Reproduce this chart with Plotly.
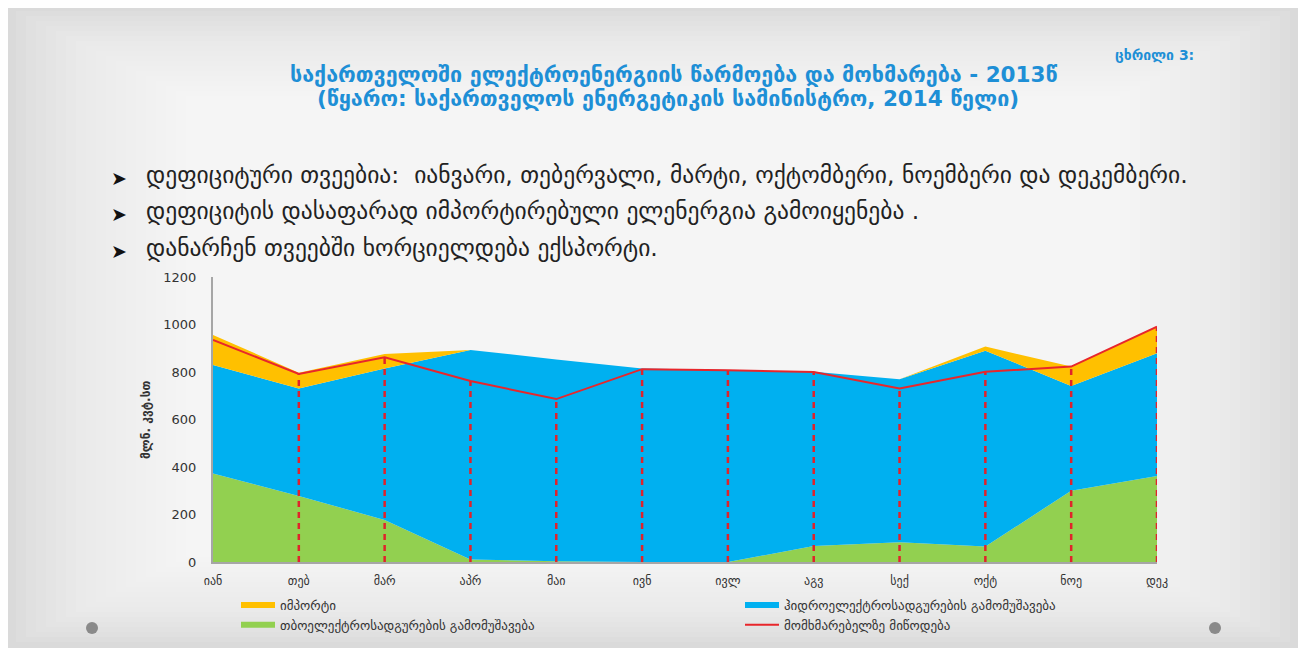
import plotly.graph_objects as go

months = ["იან", "თებ", "მარ", "აპრ", "მაი", "ივნ", "ივლ", "აგვ", "სექ", "ოქტ", "ნოე", "დეკ"]
thermal = [373, 278, 177, 11, 3, 0, 0, 67, 83, 65, 300, 362]
hydro = [456, 453, 638, 882, 850, 815, 808, 734, 686, 825, 441, 517]
imports = [127, 66, 61, 0, 0, 0, 0, 0, 0, 17, 82, 112]
supply = [935, 792, 862, 762, 686, 812, 807, 800, 731, 801, 823, 991]

names = {
    "imp": "იმპორტი",
    "hydro": "ჰიდროელექტროსადგურების გამომუშავება",
    "thermal": "თბოელექტროსადგურების გამომუშავება",
    "supply": "მომხმარებელზე მიწოდება",
}
yticks = [0, 200, 400, 600, 800, 1000, 1200]

OFF = 8  # default page body margin
PW, PH = 1306, 653
W, H = PW - OFF, PH - OFF
L, R, T, B = 213, 1157, 277, 562  # plot area in page pixels


def px(v):
    return (v - L) / (R - L)


def py(v):
    return (B - v) / (B - T)


x = list(range(len(months)))
FONT = "DejaVu Sans"

fig = go.Figure()
fig.add_trace(go.Scatter(x=x, y=thermal, stackgroup="s", mode="none", fillcolor="#92d050",
                         name=names["thermal"], legend="legend", legendrank=2))
fig.add_trace(go.Scatter(x=x, y=hydro, stackgroup="s", mode="none", fillcolor="#00b0f0",
                         name=names["hydro"], legend="legend2", legendrank=1))
fig.add_trace(go.Scatter(x=x, y=imports, stackgroup="s", mode="none", fillcolor="#ffc000",
                         name=names["imp"], legend="legend", legendrank=1))

# drop lines from the supply line to the axis
dx, dy = [], []
for i, v in zip(x[1:], supply[1:]):
    dx += [i, i, None]
    dy += [0, v, None]
fig.add_trace(go.Scatter(x=dx, y=dy, mode="lines", line=dict(color="#e0232b", width=2.5, dash="6px,5px"),
                         showlegend=False, hoverinfo="skip"))
fig.add_trace(go.Scatter(x=x, y=supply, mode="lines", line=dict(color="#e8262b", width=2),
                         name=names["supply"], legend="legend2", legendrank=2))

# slide background (soft gradient)
shapes = [dict(type="rect", xref="paper", yref="paper", x0=px(6), x1=px(1300), y0=py(648), y1=py(6),
               fillcolor="#dadada", line=dict(width=0), layer="below")]
for k in range(1, 22):
    ix, iy = 6 + k * 10, 6 + k * 5
    shapes.append(dict(type="rect", xref="paper", yref="paper",
                       x0=px(ix), x1=px(PW - ix), y0=py(PH - iy), y1=py(iy),
                       fillcolor="white", opacity=0.09, line=dict(width=0), layer="below"))
for cx in (92, 1215):
    shapes.append(dict(type="circle", xref="paper", yref="paper",
                       x0=px(cx - 6), x1=px(cx + 6), y0=py(634), y1=py(622),
                       fillcolor="#8a8a8a", line=dict(width=0)))

BLUE = "#1e8fd6"
annotations = [
    dict(text="<b>ცხრილი 3:</b>", x=px(1196), y=py(55), xanchor="right", yanchor="middle",
         font=dict(family=FONT, size=14, color=BLUE), showarrow=False, xref="paper", yref="paper"),
    dict(text="<b>საქართველოში ელექტროენერგიის წარმოება და მოხმარება - 2013წ</b>", x=px(673), y=py(74),
         xanchor="center", yanchor="middle", font=dict(family=FONT, size=21.5, color=BLUE),
         showarrow=False, xref="paper", yref="paper"),
    dict(text="<b>(წყარო: საქართველოს ენერგეტიკის სამინისტრო, 2014 წელი)</b>", x=px(668), y=py(98),
         xanchor="center", yanchor="middle", font=dict(family=FONT, size=21.5, color=BLUE),
         showarrow=False, xref="paper", yref="paper"),
    dict(text="<b>მლნ. კვტ.სთ</b>", x=px(146), y=py(420), xanchor="center", yanchor="middle", textangle=-90,
         font=dict(family=FONT, size=12, color="#333"), showarrow=False, xref="paper", yref="paper"),
]
bullets = [
    ("დეფიციტური თვეებია:  იანვარი, თებერვალი, მარტი, ოქტომბერი, ნოემბერი და დეკემბერი.", 175),
    ("დეფიციტის დასაფარად იმპორტირებული ელენერგია გამოიყენება .", 211),
    ("დანარჩენ თვეებში ხორციელდება ექსპორტი.", 248),
]
for t, yy in bullets:
    annotations.append(dict(text="➤", x=px(109), y=py(yy + 3), xanchor="left", yanchor="middle",
                            font=dict(family=FONT, size=19, color="#111"), showarrow=False,
                            xref="paper", yref="paper"))
    annotations.append(dict(text=t, x=px(144), y=py(yy), xanchor="left", yanchor="middle",
                            font=dict(family=FONT, size=23.5, color="#222"), showarrow=False,
                            xref="paper", yref="paper"))

fig.update_layout(
    width=W, height=H,
    margin=dict(l=L - OFF, r=W - (R - OFF), t=T - OFF, b=H - (B - OFF)),
    paper_bgcolor="white", plot_bgcolor="rgba(0,0,0,0)",
    font=dict(family=FONT, color="#333"),
    shapes=shapes, annotations=annotations,
    xaxis=dict(range=[0, 11], tickvals=x, ticktext=months, showgrid=False, zeroline=False,
               showline=True, linecolor="#a6a6a6", linewidth=1.5, ticks="",
               ticklabelstandoff=7,
               tickfont=dict(family=FONT, size=12, color="#333")),
    yaxis=dict(range=[0, 1200], tickvals=yticks, showgrid=False, zeroline=False,
               showline=True, linecolor="#a6a6a6", linewidth=2, ticks="",
               ticklabelstandoff=12,
               tickfont=dict(family=FONT, size=13, color="#333")),
    legend=dict(x=px(236), y=py(590), xanchor="left", yanchor="top", orientation="v",
                bgcolor="rgba(0,0,0,0)", font=dict(family=FONT, size=13, color="#333"),
                traceorder="normal", itemwidth=34),
    legend2=dict(x=px(740), y=py(590), xanchor="left", yanchor="top", orientation="v",
                 bgcolor="rgba(0,0,0,0)", font=dict(family=FONT, size=13, color="#333"),
                 traceorder="normal", itemwidth=34),
)

fig.write_html("out.html")
